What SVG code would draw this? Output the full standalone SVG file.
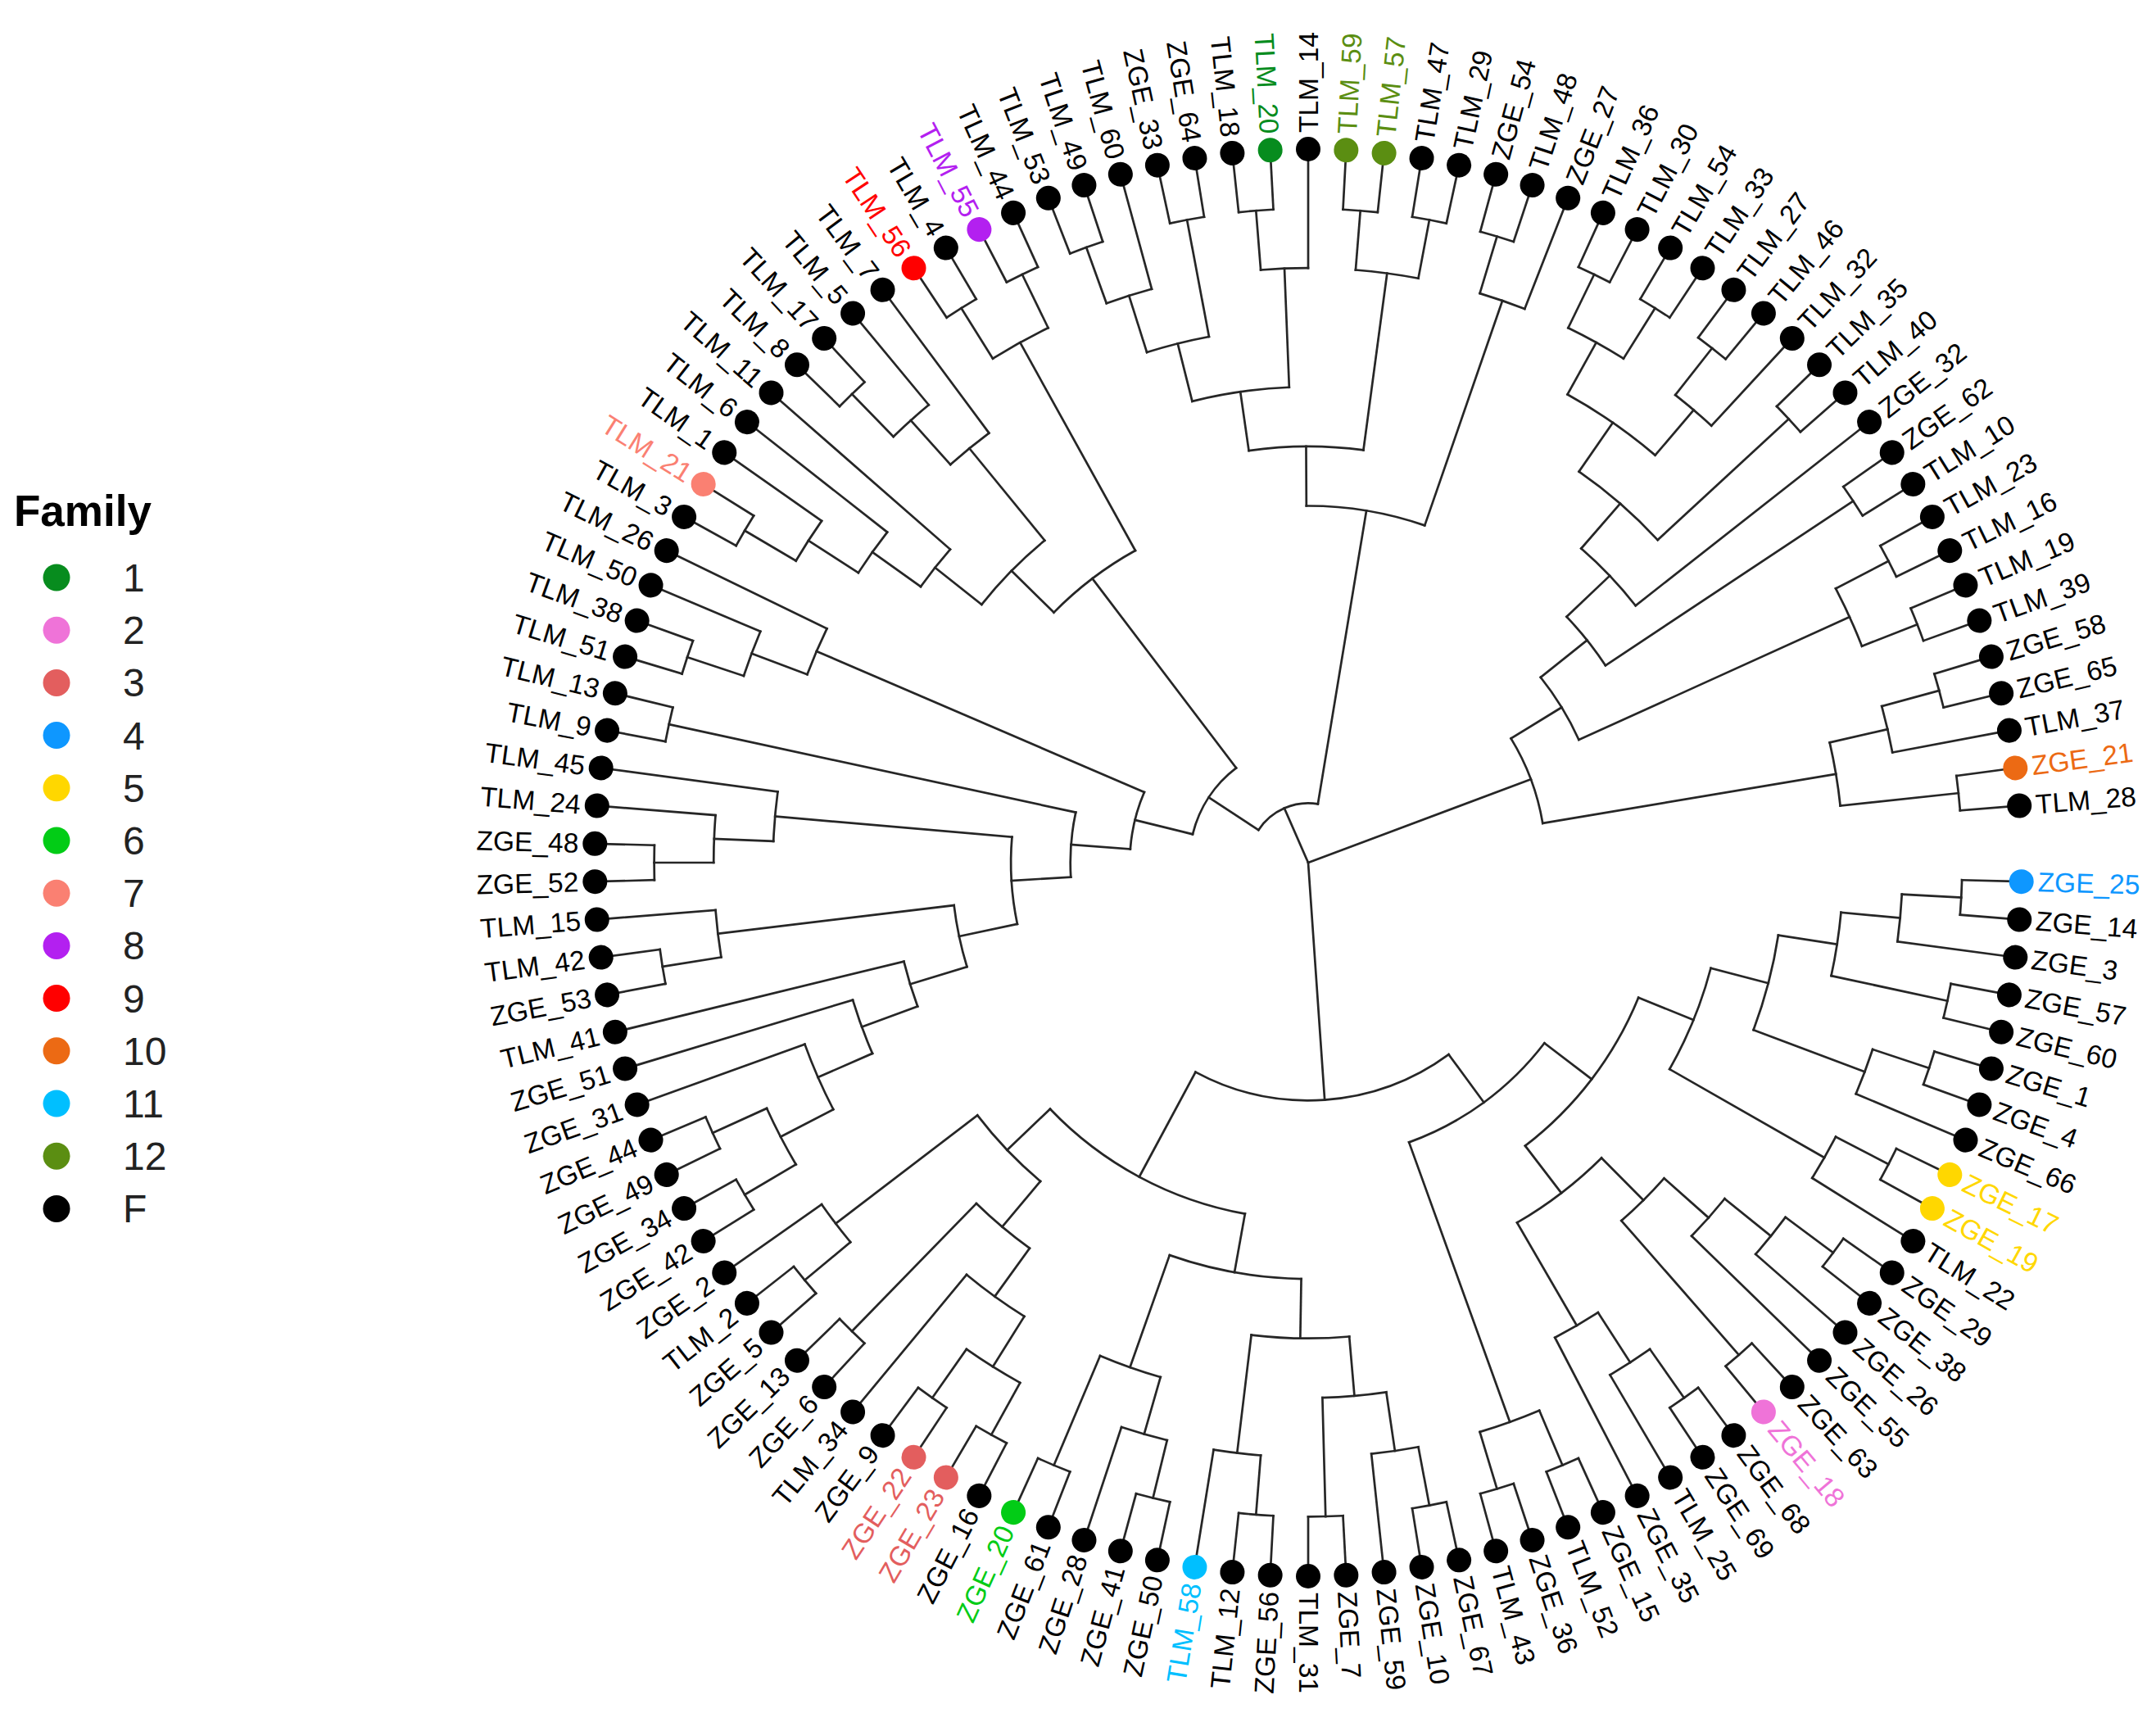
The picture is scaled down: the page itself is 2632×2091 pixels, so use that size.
<svg xmlns="http://www.w3.org/2000/svg" width="2632" height="2091" viewBox="0 0 2632 2091">
<style>
.br path,.br circle{fill:none;stroke:#262626;stroke-width:2.7;stroke-linecap:square}
.tips{font-family:'Liberation Sans',Arial,sans-serif;font-size:33.5px}
.tips text{dominant-baseline:central}
.tips .f text{text-anchor:end}
.lg{font-family:'Liberation Sans',Arial,sans-serif;font-size:48px;fill:#222}
</style>
<rect width="2632" height="2091" fill="#fff"/>
<g id="legend">
<text x="17" y="642" font-family="'Liberation Sans',Arial,sans-serif" font-size="53" font-weight="bold">Family</text>
<circle cx="69" cy="705" r="16.5" fill="#078C1E"/><text class="lg" x="150" y="722">1</text>
<circle cx="69" cy="769.2" r="16.5" fill="#EF73D8"/><text class="lg" x="150" y="786.2">2</text>
<circle cx="69" cy="833.4" r="16.5" fill="#E35E5E"/><text class="lg" x="150" y="850.4">3</text>
<circle cx="69" cy="897.6" r="16.5" fill="#0E97FF"/><text class="lg" x="150" y="914.6">4</text>
<circle cx="69" cy="961.8" r="16.5" fill="#FFD700"/><text class="lg" x="150" y="978.8">5</text>
<circle cx="69" cy="1026" r="16.5" fill="#02CC16"/><text class="lg" x="150" y="1043">6</text>
<circle cx="69" cy="1090.2" r="16.5" fill="#FA8072"/><text class="lg" x="150" y="1107.2">7</text>
<circle cx="69" cy="1154.4" r="16.5" fill="#B320F0"/><text class="lg" x="150" y="1171.4">8</text>
<circle cx="69" cy="1218.6" r="16.5" fill="#FF0000"/><text class="lg" x="150" y="1235.6">9</text>
<circle cx="69" cy="1282.8" r="16.5" fill="#EC6A14"/><text class="lg" x="150" y="1299.8">10</text>
<circle cx="69" cy="1347" r="16.5" fill="#00BFFF"/><text class="lg" x="150" y="1364">11</text>
<circle cx="69" cy="1411.2" r="16.5" fill="#5B8E12"/><text class="lg" x="150" y="1428.2">12</text>
<circle cx="69" cy="1475.4" r="16.5" fill="#000"/><text class="lg" x="150" y="1492.4">F</text>
</g>
<g id="branches" class="br" transform="translate(1597 1053)">
<path d="M0 0H72.6" transform="rotate(246.342)"/>
<path d="M0 0H290.3" transform="rotate(339.49)"/>
<path d="M0 0H290.3" transform="rotate(86.02)"/>
<circle r="798.4" pathLength="360" stroke-dasharray="3.051 720" transform="rotate(1.525)"/>
<path d="M798.4 0H871" transform="rotate(1.525)"/><path d="M798.4 0H871" transform="rotate(4.576)"/>
<circle r="725.8" pathLength="360" stroke-dasharray="4.576 720" transform="rotate(3.051)"/>
<path d="M725.8 0H798.4" transform="rotate(3.051)"/><path d="M725.8 0H871" transform="rotate(7.627)"/>
<circle r="798.4" pathLength="360" stroke-dasharray="3.051 720" transform="rotate(10.678)"/>
<path d="M798.4 0H871" transform="rotate(10.678)"/><path d="M798.4 0H871" transform="rotate(13.729)"/>
<circle r="653.3" pathLength="360" stroke-dasharray="6.864 720" transform="rotate(5.339)"/>
<path d="M653.3 0H725.8" transform="rotate(5.339)"/><path d="M653.3 0H798.4" transform="rotate(12.203)"/>
<circle r="798.4" pathLength="360" stroke-dasharray="3.051 720" transform="rotate(16.78)"/>
<path d="M798.4 0H871" transform="rotate(16.78)"/><path d="M798.4 0H871" transform="rotate(19.831)"/>
<circle r="725.8" pathLength="360" stroke-dasharray="4.576 720" transform="rotate(18.305)"/>
<path d="M725.8 0H798.4" transform="rotate(18.305)"/><path d="M725.8 0H871" transform="rotate(22.881)"/>
<circle r="580.7" pathLength="360" stroke-dasharray="11.822 720" transform="rotate(8.771)"/>
<path d="M580.7 0H653.3" transform="rotate(8.771)"/><path d="M580.7 0H725.8" transform="rotate(20.593)"/>
<circle r="798.4" pathLength="360" stroke-dasharray="3.051 720" transform="rotate(25.932)"/>
<path d="M798.4 0H871" transform="rotate(25.932)"/><path d="M798.4 0H871" transform="rotate(28.983)"/>
<circle r="725.8" pathLength="360" stroke-dasharray="4.576 720" transform="rotate(27.458)"/>
<path d="M725.8 0H798.4" transform="rotate(27.458)"/><path d="M725.8 0H871" transform="rotate(32.034)"/>
<circle r="508.1" pathLength="360" stroke-dasharray="15.064 720" transform="rotate(14.682)"/>
<path d="M508.1 0H580.7" transform="rotate(14.682)"/><path d="M508.1 0H725.8" transform="rotate(29.746)"/>
<circle r="798.4" pathLength="360" stroke-dasharray="3.051 720" transform="rotate(35.085)"/>
<path d="M798.4 0H871" transform="rotate(35.085)"/><path d="M798.4 0H871" transform="rotate(38.136)"/>
<circle r="725.8" pathLength="360" stroke-dasharray="4.576 720" transform="rotate(36.61)"/>
<path d="M725.8 0H798.4" transform="rotate(36.61)"/><path d="M725.8 0H871" transform="rotate(41.186)"/>
<circle r="653.3" pathLength="360" stroke-dasharray="5.339 720" transform="rotate(38.898)"/>
<path d="M653.3 0H725.8" transform="rotate(38.898)"/><path d="M653.3 0H871" transform="rotate(44.237)"/>
<circle r="798.4" pathLength="360" stroke-dasharray="3.051 720" transform="rotate(47.288)"/>
<path d="M798.4 0H871" transform="rotate(47.288)"/><path d="M798.4 0H871" transform="rotate(50.339)"/>
<circle r="580.7" pathLength="360" stroke-dasharray="7.246 720" transform="rotate(41.568)"/>
<path d="M580.7 0H653.3" transform="rotate(41.568)"/><path d="M580.7 0H798.4" transform="rotate(48.814)"/>
<circle r="798.4" pathLength="360" stroke-dasharray="3.051 720" transform="rotate(53.39)"/>
<path d="M798.4 0H871" transform="rotate(53.39)"/><path d="M798.4 0H871" transform="rotate(56.441)"/>
<circle r="725.8" pathLength="360" stroke-dasharray="4.577 720" transform="rotate(54.915)"/>
<path d="M725.8 0H798.4" transform="rotate(54.915)"/><path d="M725.8 0H871" transform="rotate(59.492)"/>
<circle r="653.3" pathLength="360" stroke-dasharray="5.339 720" transform="rotate(57.203)"/>
<path d="M653.3 0H725.8" transform="rotate(57.203)"/><path d="M653.3 0H871" transform="rotate(62.542)"/>
<circle r="508.1" pathLength="360" stroke-dasharray="14.682 720" transform="rotate(45.191)"/>
<path d="M508.1 0H580.7" transform="rotate(45.191)"/><path d="M508.1 0H653.3" transform="rotate(59.873)"/>
<circle r="435.5" pathLength="360" stroke-dasharray="30.318 720" transform="rotate(22.214)"/>
<path d="M435.5 0H508.1" transform="rotate(22.214)"/><path d="M435.5 0H508.1" transform="rotate(52.532)"/>
<circle r="798.4" pathLength="360" stroke-dasharray="3.051 720" transform="rotate(65.593)"/>
<path d="M798.4 0H871" transform="rotate(65.593)"/><path d="M798.4 0H871" transform="rotate(68.644)"/>
<circle r="798.4" pathLength="360" stroke-dasharray="3.051 720" transform="rotate(71.695)"/>
<path d="M798.4 0H871" transform="rotate(71.695)"/><path d="M798.4 0H871" transform="rotate(74.746)"/>
<circle r="725.8" pathLength="360" stroke-dasharray="6.101 720" transform="rotate(67.119)"/>
<path d="M725.8 0H798.4" transform="rotate(67.119)"/><path d="M725.8 0H798.4" transform="rotate(73.22)"/>
<circle r="362.9" pathLength="360" stroke-dasharray="32.797 720" transform="rotate(37.373)"/>
<path d="M362.9 0H435.5" transform="rotate(37.373)"/><path d="M362.9 0H725.8" transform="rotate(70.17)"/>
<circle r="798.4" pathLength="360" stroke-dasharray="3.05 720" transform="rotate(77.797)"/>
<path d="M798.4 0H871" transform="rotate(77.797)"/><path d="M798.4 0H871" transform="rotate(80.847)"/>
<circle r="725.8" pathLength="360" stroke-dasharray="4.576 720" transform="rotate(79.322)"/>
<path d="M725.8 0H798.4" transform="rotate(79.322)"/><path d="M725.8 0H871" transform="rotate(83.898)"/>
<circle r="798.4" pathLength="360" stroke-dasharray="3.051 720" transform="rotate(86.949)"/>
<path d="M798.4 0H871" transform="rotate(86.949)"/><path d="M798.4 0H871" transform="rotate(90)"/>
<circle r="653.3" pathLength="360" stroke-dasharray="6.865 720" transform="rotate(81.61)"/>
<path d="M653.3 0H725.8" transform="rotate(81.61)"/><path d="M653.3 0H798.4" transform="rotate(88.475)"/>
<circle r="798.4" pathLength="360" stroke-dasharray="3.051 720" transform="rotate(93.051)"/>
<path d="M798.4 0H871" transform="rotate(93.051)"/><path d="M798.4 0H871" transform="rotate(96.102)"/>
<circle r="725.8" pathLength="360" stroke-dasharray="4.577 720" transform="rotate(94.576)"/>
<path d="M725.8 0H798.4" transform="rotate(94.576)"/><path d="M725.8 0H871" transform="rotate(99.153)"/>
<circle r="580.7" pathLength="360" stroke-dasharray="11.822 720" transform="rotate(85.042)"/>
<path d="M580.7 0H653.3" transform="rotate(85.042)"/><path d="M580.7 0H725.8" transform="rotate(96.864)"/>
<circle r="798.4" pathLength="360" stroke-dasharray="3.051 720" transform="rotate(102.203)"/>
<path d="M798.4 0H871" transform="rotate(102.203)"/><path d="M798.4 0H871" transform="rotate(105.254)"/>
<circle r="725.8" pathLength="360" stroke-dasharray="4.576 720" transform="rotate(103.729)"/>
<path d="M725.8 0H798.4" transform="rotate(103.729)"/><path d="M725.8 0H871" transform="rotate(108.305)"/>
<circle r="798.4" pathLength="360" stroke-dasharray="3.051 720" transform="rotate(111.356)"/>
<path d="M798.4 0H871" transform="rotate(111.356)"/><path d="M798.4 0H871" transform="rotate(114.407)"/>
<circle r="653.3" pathLength="360" stroke-dasharray="6.864 720" transform="rotate(106.017)"/>
<path d="M653.3 0H725.8" transform="rotate(106.017)"/><path d="M653.3 0H798.4" transform="rotate(112.881)"/>
<circle r="508.1" pathLength="360" stroke-dasharray="18.496 720" transform="rotate(90.953)"/>
<path d="M508.1 0H580.7" transform="rotate(90.953)"/><path d="M508.1 0H653.3" transform="rotate(109.449)"/>
<circle r="798.4" pathLength="360" stroke-dasharray="3.05 720" transform="rotate(117.458)"/>
<path d="M798.4 0H871" transform="rotate(117.458)"/><path d="M798.4 0H871" transform="rotate(120.508)"/>
<circle r="798.4" pathLength="360" stroke-dasharray="3.051 720" transform="rotate(123.559)"/>
<path d="M798.4 0H871" transform="rotate(123.559)"/><path d="M798.4 0H871" transform="rotate(126.61)"/>
<circle r="725.8" pathLength="360" stroke-dasharray="6.102 720" transform="rotate(118.983)"/>
<path d="M725.8 0H798.4" transform="rotate(118.983)"/><path d="M725.8 0H798.4" transform="rotate(125.085)"/>
<circle r="653.3" pathLength="360" stroke-dasharray="7.627 720" transform="rotate(122.034)"/>
<path d="M653.3 0H725.8" transform="rotate(122.034)"/><path d="M653.3 0H871" transform="rotate(129.661)"/>
<circle r="798.4" pathLength="360" stroke-dasharray="3.051 720" transform="rotate(132.712)"/>
<path d="M798.4 0H871" transform="rotate(132.712)"/><path d="M798.4 0H871" transform="rotate(135.763)"/>
<circle r="580.7" pathLength="360" stroke-dasharray="8.39 720" transform="rotate(125.848)"/>
<path d="M580.7 0H653.3" transform="rotate(125.848)"/><path d="M580.7 0H798.4" transform="rotate(134.238)"/>
<circle r="798.4" pathLength="360" stroke-dasharray="3.05 720" transform="rotate(138.814)"/>
<path d="M798.4 0H871" transform="rotate(138.814)"/><path d="M798.4 0H871" transform="rotate(141.864)"/>
<circle r="725.8" pathLength="360" stroke-dasharray="4.576 720" transform="rotate(140.339)"/>
<path d="M725.8 0H798.4" transform="rotate(140.339)"/><path d="M725.8 0H871" transform="rotate(144.915)"/>
<circle r="508.1" pathLength="360" stroke-dasharray="12.584 720" transform="rotate(130.043)"/>
<path d="M508.1 0H580.7" transform="rotate(130.043)"/><path d="M508.1 0H725.8" transform="rotate(142.627)"/>
<circle r="435.5" pathLength="360" stroke-dasharray="36.134 720" transform="rotate(100.201)"/>
<path d="M435.5 0H508.1" transform="rotate(100.201)"/><path d="M435.5 0H508.1" transform="rotate(136.335)"/>
<circle r="290.3" pathLength="360" stroke-dasharray="64.497 720" transform="rotate(53.771)"/>
<path d="M290.3 0H362.9" transform="rotate(53.771)"/><path d="M290.3 0H435.5" transform="rotate(118.268)"/>
<circle r="798.4" pathLength="360" stroke-dasharray="3.051 720" transform="rotate(147.966)"/>
<path d="M798.4 0H871" transform="rotate(147.966)"/><path d="M798.4 0H871" transform="rotate(151.017)"/>
<circle r="798.4" pathLength="360" stroke-dasharray="3.051 720" transform="rotate(154.068)"/>
<path d="M798.4 0H871" transform="rotate(154.068)"/><path d="M798.4 0H871" transform="rotate(157.119)"/>
<circle r="725.8" pathLength="360" stroke-dasharray="6.102 720" transform="rotate(149.492)"/>
<path d="M725.8 0H798.4" transform="rotate(149.492)"/><path d="M725.8 0H798.4" transform="rotate(155.594)"/>
<circle r="653.3" pathLength="360" stroke-dasharray="7.626 720" transform="rotate(152.543)"/>
<path d="M653.3 0H725.8" transform="rotate(152.543)"/><path d="M653.3 0H871" transform="rotate(160.169)"/>
<circle r="580.7" pathLength="360" stroke-dasharray="6.864 720" transform="rotate(156.356)"/>
<path d="M580.7 0H653.3" transform="rotate(156.356)"/><path d="M580.7 0H871" transform="rotate(163.22)"/>
<circle r="508.1" pathLength="360" stroke-dasharray="6.483 720" transform="rotate(159.788)"/>
<path d="M508.1 0H580.7" transform="rotate(159.788)"/><path d="M508.1 0H871" transform="rotate(166.271)"/>
<circle r="798.4" pathLength="360" stroke-dasharray="3.051 720" transform="rotate(169.322)"/>
<path d="M798.4 0H871" transform="rotate(169.322)"/><path d="M798.4 0H871" transform="rotate(172.373)"/>
<circle r="725.8" pathLength="360" stroke-dasharray="4.576 720" transform="rotate(170.848)"/>
<path d="M725.8 0H798.4" transform="rotate(170.848)"/><path d="M725.8 0H871" transform="rotate(175.424)"/>
<circle r="435.5" pathLength="360" stroke-dasharray="10.106 720" transform="rotate(163.03)"/>
<path d="M435.5 0H508.1" transform="rotate(163.03)"/><path d="M435.5 0H725.8" transform="rotate(173.136)"/>
<circle r="798.4" pathLength="360" stroke-dasharray="3.05 720" transform="rotate(178.475)"/>
<path d="M798.4 0H871" transform="rotate(178.475)"/><path d="M798.4 0H871" transform="rotate(181.525)"/>
<circle r="725.8" pathLength="360" stroke-dasharray="4.576 720" transform="rotate(180)"/>
<path d="M725.8 0H798.4" transform="rotate(180)"/><path d="M725.8 0H871" transform="rotate(184.576)"/>
<circle r="653.3" pathLength="360" stroke-dasharray="5.339 720" transform="rotate(182.288)"/>
<path d="M653.3 0H725.8" transform="rotate(182.288)"/><path d="M653.3 0H871" transform="rotate(187.627)"/>
<circle r="362.9" pathLength="360" stroke-dasharray="16.875 720" transform="rotate(168.083)"/>
<path d="M362.9 0H435.5" transform="rotate(168.083)"/><path d="M362.9 0H653.3" transform="rotate(184.958)"/>
<circle r="798.4" pathLength="360" stroke-dasharray="3.051 720" transform="rotate(190.678)"/>
<path d="M798.4 0H871" transform="rotate(190.678)"/><path d="M798.4 0H871" transform="rotate(193.729)"/>
<circle r="290.3" pathLength="360" stroke-dasharray="15.683 720" transform="rotate(176.521)"/>
<path d="M290.3 0H362.9" transform="rotate(176.521)"/><path d="M290.3 0H798.4" transform="rotate(192.204)"/>
<circle r="798.4" pathLength="360" stroke-dasharray="3.051 720" transform="rotate(196.78)"/>
<path d="M798.4 0H871" transform="rotate(196.78)"/><path d="M798.4 0H871" transform="rotate(199.831)"/>
<circle r="725.8" pathLength="360" stroke-dasharray="4.576 720" transform="rotate(198.305)"/>
<path d="M725.8 0H798.4" transform="rotate(198.305)"/><path d="M725.8 0H871" transform="rotate(202.881)"/>
<circle r="653.3" pathLength="360" stroke-dasharray="5.339 720" transform="rotate(200.593)"/>
<path d="M653.3 0H725.8" transform="rotate(200.593)"/><path d="M653.3 0H871" transform="rotate(205.932)"/>
<circle r="217.8" pathLength="360" stroke-dasharray="18.9 720" transform="rotate(184.363)"/>
<path d="M217.8 0H290.3" transform="rotate(184.363)"/><path d="M217.8 0H653.3" transform="rotate(203.263)"/>
<circle r="798.4" pathLength="360" stroke-dasharray="3.051 720" transform="rotate(208.983)"/>
<path d="M798.4 0H871" transform="rotate(208.983)"/><path d="M798.4 0H871" transform="rotate(212.034)"/>
<circle r="725.8" pathLength="360" stroke-dasharray="4.577 720" transform="rotate(210.508)"/>
<path d="M725.8 0H798.4" transform="rotate(210.508)"/><path d="M725.8 0H871" transform="rotate(215.085)"/>
<circle r="653.3" pathLength="360" stroke-dasharray="5.339 720" transform="rotate(212.797)"/>
<path d="M653.3 0H725.8" transform="rotate(212.797)"/><path d="M653.3 0H871" transform="rotate(218.136)"/>
<circle r="580.7" pathLength="360" stroke-dasharray="5.72 720" transform="rotate(215.466)"/>
<path d="M580.7 0H653.3" transform="rotate(215.466)"/><path d="M580.7 0H871" transform="rotate(221.186)"/>
<circle r="798.4" pathLength="360" stroke-dasharray="3.051 720" transform="rotate(224.237)"/>
<path d="M798.4 0H871" transform="rotate(224.237)"/><path d="M798.4 0H871" transform="rotate(227.288)"/>
<circle r="725.8" pathLength="360" stroke-dasharray="4.576 720" transform="rotate(225.763)"/>
<path d="M725.8 0H798.4" transform="rotate(225.763)"/><path d="M725.8 0H871" transform="rotate(230.339)"/>
<circle r="653.3" pathLength="360" stroke-dasharray="5.339 720" transform="rotate(228.051)"/>
<path d="M653.3 0H725.8" transform="rotate(228.051)"/><path d="M653.3 0H871" transform="rotate(233.39)"/>
<circle r="508.1" pathLength="360" stroke-dasharray="12.394 720" transform="rotate(218.326)"/>
<path d="M508.1 0H580.7" transform="rotate(218.326)"/><path d="M508.1 0H653.3" transform="rotate(230.72)"/>
<circle r="798.4" pathLength="360" stroke-dasharray="3.051 720" transform="rotate(236.441)"/>
<path d="M798.4 0H871" transform="rotate(236.441)"/><path d="M798.4 0H871" transform="rotate(239.492)"/>
<circle r="798.4" pathLength="360" stroke-dasharray="3.051 720" transform="rotate(242.542)"/>
<path d="M798.4 0H871" transform="rotate(242.542)"/><path d="M798.4 0H871" transform="rotate(245.593)"/>
<circle r="725.8" pathLength="360" stroke-dasharray="6.102 720" transform="rotate(237.966)"/>
<path d="M725.8 0H798.4" transform="rotate(237.966)"/><path d="M725.8 0H798.4" transform="rotate(244.068)"/>
<circle r="435.5" pathLength="360" stroke-dasharray="16.494 720" transform="rotate(224.523)"/>
<path d="M435.5 0H508.1" transform="rotate(224.523)"/><path d="M435.5 0H725.8" transform="rotate(241.017)"/>
<circle r="145.2" pathLength="360" stroke-dasharray="38.957 720" transform="rotate(193.813)"/>
<path d="M145.2 0H217.8" transform="rotate(193.813)"/><path d="M145.2 0H435.5" transform="rotate(232.77)"/>
<circle r="798.4" pathLength="360" stroke-dasharray="3.051 720" transform="rotate(248.644)"/>
<path d="M798.4 0H871" transform="rotate(248.644)"/><path d="M798.4 0H871" transform="rotate(251.695)"/>
<circle r="725.8" pathLength="360" stroke-dasharray="4.577 720" transform="rotate(250.169)"/>
<path d="M725.8 0H798.4" transform="rotate(250.169)"/><path d="M725.8 0H871" transform="rotate(254.746)"/>
<circle r="798.4" pathLength="360" stroke-dasharray="3.05 720" transform="rotate(257.797)"/>
<path d="M798.4 0H871" transform="rotate(257.797)"/><path d="M798.4 0H871" transform="rotate(260.847)"/>
<circle r="653.3" pathLength="360" stroke-dasharray="6.864 720" transform="rotate(252.458)"/>
<path d="M653.3 0H725.8" transform="rotate(252.458)"/><path d="M653.3 0H798.4" transform="rotate(259.322)"/>
<circle r="798.4" pathLength="360" stroke-dasharray="3.051 720" transform="rotate(263.898)"/>
<path d="M798.4 0H871" transform="rotate(263.898)"/><path d="M798.4 0H871" transform="rotate(266.949)"/>
<circle r="725.8" pathLength="360" stroke-dasharray="4.576 720" transform="rotate(265.424)"/>
<path d="M725.8 0H798.4" transform="rotate(265.424)"/><path d="M725.8 0H871" transform="rotate(270)"/>
<circle r="580.7" pathLength="360" stroke-dasharray="11.822 720" transform="rotate(255.89)"/>
<path d="M580.7 0H653.3" transform="rotate(255.89)"/><path d="M580.7 0H725.8" transform="rotate(267.712)"/>
<circle r="798.4" pathLength="360" stroke-dasharray="3.051 720" transform="rotate(273.051)"/>
<path d="M798.4 0H871" transform="rotate(273.051)"/><path d="M798.4 0H871" transform="rotate(276.102)"/>
<circle r="798.4" pathLength="360" stroke-dasharray="3.05 720" transform="rotate(279.153)"/>
<path d="M798.4 0H871" transform="rotate(279.153)"/><path d="M798.4 0H871" transform="rotate(282.203)"/>
<circle r="725.8" pathLength="360" stroke-dasharray="6.101 720" transform="rotate(274.577)"/>
<path d="M725.8 0H798.4" transform="rotate(274.577)"/><path d="M725.8 0H798.4" transform="rotate(280.678)"/>
<circle r="508.1" pathLength="360" stroke-dasharray="15.827 720" transform="rotate(261.801)"/>
<path d="M508.1 0H580.7" transform="rotate(261.801)"/><path d="M508.1 0H725.8" transform="rotate(277.628)"/>
<circle r="798.4" pathLength="360" stroke-dasharray="3.051 720" transform="rotate(285.254)"/>
<path d="M798.4 0H871" transform="rotate(285.254)"/><path d="M798.4 0H871" transform="rotate(288.305)"/>
<circle r="725.8" pathLength="360" stroke-dasharray="4.576 720" transform="rotate(286.78)"/>
<path d="M725.8 0H798.4" transform="rotate(286.78)"/><path d="M725.8 0H871" transform="rotate(291.356)"/>
<circle r="435.5" pathLength="360" stroke-dasharray="19.353 720" transform="rotate(269.715)"/>
<path d="M435.5 0H508.1" transform="rotate(269.715)"/><path d="M435.5 0H725.8" transform="rotate(289.068)"/>
<circle r="72.6" pathLength="360" stroke-dasharray="66.1 720" transform="rotate(213.292)"/>
<path d="M72.6 0H145.2" transform="rotate(213.292)"/><path d="M72.6 0H435.5" transform="rotate(279.392)"/>
<circle r="798.4" pathLength="360" stroke-dasharray="3.051 720" transform="rotate(294.407)"/>
<path d="M798.4 0H871" transform="rotate(294.407)"/><path d="M798.4 0H871" transform="rotate(297.458)"/>
<circle r="798.4" pathLength="360" stroke-dasharray="3.051 720" transform="rotate(300.508)"/>
<path d="M798.4 0H871" transform="rotate(300.508)"/><path d="M798.4 0H871" transform="rotate(303.559)"/>
<circle r="725.8" pathLength="360" stroke-dasharray="6.101 720" transform="rotate(295.933)"/>
<path d="M725.8 0H798.4" transform="rotate(295.933)"/><path d="M725.8 0H798.4" transform="rotate(302.034)"/>
<circle r="798.4" pathLength="360" stroke-dasharray="3.051 720" transform="rotate(306.61)"/>
<path d="M798.4 0H871" transform="rotate(306.61)"/><path d="M798.4 0H871" transform="rotate(309.661)"/>
<circle r="725.8" pathLength="360" stroke-dasharray="4.576 720" transform="rotate(308.136)"/>
<path d="M725.8 0H798.4" transform="rotate(308.136)"/><path d="M725.8 0H871" transform="rotate(312.712)"/>
<circle r="653.3" pathLength="360" stroke-dasharray="11.441 720" transform="rotate(298.983)"/>
<path d="M653.3 0H725.8" transform="rotate(298.983)"/><path d="M653.3 0H725.8" transform="rotate(310.424)"/>
<circle r="798.4" pathLength="360" stroke-dasharray="3.051 720" transform="rotate(315.763)"/>
<path d="M798.4 0H871" transform="rotate(315.763)"/><path d="M798.4 0H871" transform="rotate(318.814)"/>
<circle r="580.7" pathLength="360" stroke-dasharray="12.585 720" transform="rotate(304.703)"/>
<path d="M580.7 0H653.3" transform="rotate(304.703)"/><path d="M580.7 0H798.4" transform="rotate(317.288)"/>
<circle r="508.1" pathLength="360" stroke-dasharray="10.868 720" transform="rotate(310.996)"/>
<path d="M508.1 0H580.7" transform="rotate(310.996)"/><path d="M508.1 0H871" transform="rotate(321.864)"/>
<circle r="798.4" pathLength="360" stroke-dasharray="3.051 720" transform="rotate(324.915)"/>
<path d="M798.4 0H871" transform="rotate(324.915)"/><path d="M798.4 0H871" transform="rotate(327.966)"/>
<circle r="435.5" pathLength="360" stroke-dasharray="10.011 720" transform="rotate(316.43)"/>
<path d="M435.5 0H508.1" transform="rotate(316.43)"/><path d="M435.5 0H798.4" transform="rotate(326.441)"/>
<circle r="798.4" pathLength="360" stroke-dasharray="3.051 720" transform="rotate(331.017)"/>
<path d="M798.4 0H871" transform="rotate(331.017)"/><path d="M798.4 0H871" transform="rotate(334.068)"/>
<circle r="798.4" pathLength="360" stroke-dasharray="3.05 720" transform="rotate(337.119)"/>
<path d="M798.4 0H871" transform="rotate(337.119)"/><path d="M798.4 0H871" transform="rotate(340.169)"/>
<circle r="725.8" pathLength="360" stroke-dasharray="6.102 720" transform="rotate(332.542)"/>
<path d="M725.8 0H798.4" transform="rotate(332.542)"/><path d="M725.8 0H798.4" transform="rotate(338.644)"/>
<circle r="362.9" pathLength="360" stroke-dasharray="14.158 720" transform="rotate(321.435)"/>
<path d="M362.9 0H435.5" transform="rotate(321.435)"/><path d="M362.9 0H725.8" transform="rotate(335.593)"/>
<circle r="798.4" pathLength="360" stroke-dasharray="3.051 720" transform="rotate(343.22)"/>
<path d="M798.4 0H871" transform="rotate(343.22)"/><path d="M798.4 0H871" transform="rotate(346.271)"/>
<circle r="725.8" pathLength="360" stroke-dasharray="4.576 720" transform="rotate(344.746)"/>
<path d="M725.8 0H798.4" transform="rotate(344.746)"/><path d="M725.8 0H871" transform="rotate(349.322)"/>
<circle r="798.4" pathLength="360" stroke-dasharray="3.051 720" transform="rotate(352.373)"/>
<path d="M798.4 0H871" transform="rotate(352.373)"/><path d="M798.4 0H871" transform="rotate(355.424)"/>
<circle r="653.3" pathLength="360" stroke-dasharray="6.864 720" transform="rotate(347.034)"/>
<path d="M653.3 0H725.8" transform="rotate(347.034)"/><path d="M653.3 0H798.4" transform="rotate(353.898)"/>
<circle r="290.3" pathLength="360" stroke-dasharray="21.952 720" transform="rotate(328.514)"/>
<path d="M290.3 0H362.9" transform="rotate(328.514)"/><path d="M290.3 0H653.3" transform="rotate(350.466)"/>
</g>
<g id="tips" class="tips" transform="translate(1597 1053)">
<g id="t-ZGE_25" transform="rotate(1.525)" fill="#0E97FF"><circle cx="871" r="15"/><text x="891">ZGE_25</text></g>
<g id="t-ZGE_14" transform="rotate(4.576)"><circle cx="871" r="15"/><text x="891">ZGE_14</text></g>
<g id="t-ZGE_3" transform="rotate(7.627)"><circle cx="871" r="15"/><text x="891">ZGE_3</text></g>
<g id="t-ZGE_57" transform="rotate(10.678)"><circle cx="871" r="15"/><text x="891">ZGE_57</text></g>
<g id="t-ZGE_60" transform="rotate(13.729)"><circle cx="871" r="15"/><text x="891">ZGE_60</text></g>
<g id="t-ZGE_1" transform="rotate(16.78)"><circle cx="871" r="15"/><text x="891">ZGE_1</text></g>
<g id="t-ZGE_4" transform="rotate(19.831)"><circle cx="871" r="15"/><text x="891">ZGE_4</text></g>
<g id="t-ZGE_66" transform="rotate(22.881)"><circle cx="871" r="15"/><text x="891">ZGE_66</text></g>
<g id="t-ZGE_17" transform="rotate(25.932)" fill="#FFD700"><circle cx="871" r="15"/><text x="891">ZGE_17</text></g>
<g id="t-ZGE_19" transform="rotate(28.983)" fill="#FFD700"><circle cx="871" r="15"/><text x="891">ZGE_19</text></g>
<g id="t-TLM_22" transform="rotate(32.034)"><circle cx="871" r="15"/><text x="891">TLM_22</text></g>
<g id="t-ZGE_29" transform="rotate(35.085)"><circle cx="871" r="15"/><text x="891">ZGE_29</text></g>
<g id="t-ZGE_38" transform="rotate(38.136)"><circle cx="871" r="15"/><text x="891">ZGE_38</text></g>
<g id="t-ZGE_26" transform="rotate(41.186)"><circle cx="871" r="15"/><text x="891">ZGE_26</text></g>
<g id="t-ZGE_55" transform="rotate(44.237)"><circle cx="871" r="15"/><text x="891">ZGE_55</text></g>
<g id="t-ZGE_63" transform="rotate(47.288)"><circle cx="871" r="15"/><text x="891">ZGE_63</text></g>
<g id="t-ZGE_18" transform="rotate(50.339)" fill="#EF73D8"><circle cx="871" r="15"/><text x="891">ZGE_18</text></g>
<g id="t-ZGE_68" transform="rotate(53.39)"><circle cx="871" r="15"/><text x="891">ZGE_68</text></g>
<g id="t-ZGE_69" transform="rotate(56.441)"><circle cx="871" r="15"/><text x="891">ZGE_69</text></g>
<g id="t-TLM_25" transform="rotate(59.492)"><circle cx="871" r="15"/><text x="891">TLM_25</text></g>
<g id="t-ZGE_35" transform="rotate(62.542)"><circle cx="871" r="15"/><text x="891">ZGE_35</text></g>
<g id="t-ZGE_15" transform="rotate(65.593)"><circle cx="871" r="15"/><text x="891">ZGE_15</text></g>
<g id="t-TLM_52" transform="rotate(68.644)"><circle cx="871" r="15"/><text x="891">TLM_52</text></g>
<g id="t-ZGE_36" transform="rotate(71.695)"><circle cx="871" r="15"/><text x="891">ZGE_36</text></g>
<g id="t-TLM_43" transform="rotate(74.746)"><circle cx="871" r="15"/><text x="891">TLM_43</text></g>
<g id="t-ZGE_67" transform="rotate(77.797)"><circle cx="871" r="15"/><text x="891">ZGE_67</text></g>
<g id="t-ZGE_10" transform="rotate(80.847)"><circle cx="871" r="15"/><text x="891">ZGE_10</text></g>
<g id="t-ZGE_59" transform="rotate(83.898)"><circle cx="871" r="15"/><text x="891">ZGE_59</text></g>
<g id="t-ZGE_7" transform="rotate(86.949)"><circle cx="871" r="15"/><text x="891">ZGE_7</text></g>
<g id="t-TLM_31" transform="rotate(90)"><circle cx="871" r="15"/><text x="891">TLM_31</text></g>
<g id="t-ZGE_56" class="f" transform="rotate(93.051)"><circle cx="871" r="15"/><text x="-891" transform="rotate(180)">ZGE_56</text></g>
<g id="t-TLM_12" class="f" transform="rotate(96.102)"><circle cx="871" r="15"/><text x="-891" transform="rotate(180)">TLM_12</text></g>
<g id="t-TLM_58" class="f" transform="rotate(99.153)" fill="#00BFFF"><circle cx="871" r="15"/><text x="-891" transform="rotate(180)">TLM_58</text></g>
<g id="t-ZGE_50" class="f" transform="rotate(102.203)"><circle cx="871" r="15"/><text x="-891" transform="rotate(180)">ZGE_50</text></g>
<g id="t-ZGE_41" class="f" transform="rotate(105.254)"><circle cx="871" r="15"/><text x="-891" transform="rotate(180)">ZGE_41</text></g>
<g id="t-ZGE_28" class="f" transform="rotate(108.305)"><circle cx="871" r="15"/><text x="-891" transform="rotate(180)">ZGE_28</text></g>
<g id="t-ZGE_61" class="f" transform="rotate(111.356)"><circle cx="871" r="15"/><text x="-891" transform="rotate(180)">ZGE_61</text></g>
<g id="t-ZGE_20" class="f" transform="rotate(114.407)" fill="#02CC16"><circle cx="871" r="15"/><text x="-891" transform="rotate(180)">ZGE_20</text></g>
<g id="t-ZGE_16" class="f" transform="rotate(117.458)"><circle cx="871" r="15"/><text x="-891" transform="rotate(180)">ZGE_16</text></g>
<g id="t-ZGE_23" class="f" transform="rotate(120.508)" fill="#E35E5E"><circle cx="871" r="15"/><text x="-891" transform="rotate(180)">ZGE_23</text></g>
<g id="t-ZGE_22" class="f" transform="rotate(123.559)" fill="#E35E5E"><circle cx="871" r="15"/><text x="-891" transform="rotate(180)">ZGE_22</text></g>
<g id="t-ZGE_9" class="f" transform="rotate(126.61)"><circle cx="871" r="15"/><text x="-891" transform="rotate(180)">ZGE_9</text></g>
<g id="t-TLM_34" class="f" transform="rotate(129.661)"><circle cx="871" r="15"/><text x="-891" transform="rotate(180)">TLM_34</text></g>
<g id="t-ZGE_6" class="f" transform="rotate(132.712)"><circle cx="871" r="15"/><text x="-891" transform="rotate(180)">ZGE_6</text></g>
<g id="t-ZGE_13" class="f" transform="rotate(135.763)"><circle cx="871" r="15"/><text x="-891" transform="rotate(180)">ZGE_13</text></g>
<g id="t-ZGE_5" class="f" transform="rotate(138.814)"><circle cx="871" r="15"/><text x="-891" transform="rotate(180)">ZGE_5</text></g>
<g id="t-TLM_2" class="f" transform="rotate(141.864)"><circle cx="871" r="15"/><text x="-891" transform="rotate(180)">TLM_2</text></g>
<g id="t-ZGE_2" class="f" transform="rotate(144.915)"><circle cx="871" r="15"/><text x="-891" transform="rotate(180)">ZGE_2</text></g>
<g id="t-ZGE_42" class="f" transform="rotate(147.966)"><circle cx="871" r="15"/><text x="-891" transform="rotate(180)">ZGE_42</text></g>
<g id="t-ZGE_34" class="f" transform="rotate(151.017)"><circle cx="871" r="15"/><text x="-891" transform="rotate(180)">ZGE_34</text></g>
<g id="t-ZGE_49" class="f" transform="rotate(154.068)"><circle cx="871" r="15"/><text x="-891" transform="rotate(180)">ZGE_49</text></g>
<g id="t-ZGE_44" class="f" transform="rotate(157.119)"><circle cx="871" r="15"/><text x="-891" transform="rotate(180)">ZGE_44</text></g>
<g id="t-ZGE_31" class="f" transform="rotate(160.169)"><circle cx="871" r="15"/><text x="-891" transform="rotate(180)">ZGE_31</text></g>
<g id="t-ZGE_51" class="f" transform="rotate(163.22)"><circle cx="871" r="15"/><text x="-891" transform="rotate(180)">ZGE_51</text></g>
<g id="t-TLM_41" class="f" transform="rotate(166.271)"><circle cx="871" r="15"/><text x="-891" transform="rotate(180)">TLM_41</text></g>
<g id="t-ZGE_53" class="f" transform="rotate(169.322)"><circle cx="871" r="15"/><text x="-891" transform="rotate(180)">ZGE_53</text></g>
<g id="t-TLM_42" class="f" transform="rotate(172.373)"><circle cx="871" r="15"/><text x="-891" transform="rotate(180)">TLM_42</text></g>
<g id="t-TLM_15" class="f" transform="rotate(175.424)"><circle cx="871" r="15"/><text x="-891" transform="rotate(180)">TLM_15</text></g>
<g id="t-ZGE_52" class="f" transform="rotate(178.475)"><circle cx="871" r="15"/><text x="-891" transform="rotate(180)">ZGE_52</text></g>
<g id="t-ZGE_48" class="f" transform="rotate(181.525)"><circle cx="871" r="15"/><text x="-891" transform="rotate(180)">ZGE_48</text></g>
<g id="t-TLM_24" class="f" transform="rotate(184.576)"><circle cx="871" r="15"/><text x="-891" transform="rotate(180)">TLM_24</text></g>
<g id="t-TLM_45" class="f" transform="rotate(187.627)"><circle cx="871" r="15"/><text x="-891" transform="rotate(180)">TLM_45</text></g>
<g id="t-TLM_9" class="f" transform="rotate(190.678)"><circle cx="871" r="15"/><text x="-891" transform="rotate(180)">TLM_9</text></g>
<g id="t-TLM_13" class="f" transform="rotate(193.729)"><circle cx="871" r="15"/><text x="-891" transform="rotate(180)">TLM_13</text></g>
<g id="t-TLM_51" class="f" transform="rotate(196.78)"><circle cx="871" r="15"/><text x="-891" transform="rotate(180)">TLM_51</text></g>
<g id="t-TLM_38" class="f" transform="rotate(199.831)"><circle cx="871" r="15"/><text x="-891" transform="rotate(180)">TLM_38</text></g>
<g id="t-TLM_50" class="f" transform="rotate(202.881)"><circle cx="871" r="15"/><text x="-891" transform="rotate(180)">TLM_50</text></g>
<g id="t-TLM_26" class="f" transform="rotate(205.932)"><circle cx="871" r="15"/><text x="-891" transform="rotate(180)">TLM_26</text></g>
<g id="t-TLM_3" class="f" transform="rotate(208.983)"><circle cx="871" r="15"/><text x="-891" transform="rotate(180)">TLM_3</text></g>
<g id="t-TLM_21" class="f" transform="rotate(212.034)" fill="#FA8072"><circle cx="871" r="15"/><text x="-891" transform="rotate(180)">TLM_21</text></g>
<g id="t-TLM_1" class="f" transform="rotate(215.085)"><circle cx="871" r="15"/><text x="-891" transform="rotate(180)">TLM_1</text></g>
<g id="t-TLM_6" class="f" transform="rotate(218.136)"><circle cx="871" r="15"/><text x="-891" transform="rotate(180)">TLM_6</text></g>
<g id="t-TLM_11" class="f" transform="rotate(221.186)"><circle cx="871" r="15"/><text x="-891" transform="rotate(180)">TLM_11</text></g>
<g id="t-TLM_8" class="f" transform="rotate(224.237)"><circle cx="871" r="15"/><text x="-891" transform="rotate(180)">TLM_8</text></g>
<g id="t-TLM_17" class="f" transform="rotate(227.288)"><circle cx="871" r="15"/><text x="-891" transform="rotate(180)">TLM_17</text></g>
<g id="t-TLM_5" class="f" transform="rotate(230.339)"><circle cx="871" r="15"/><text x="-891" transform="rotate(180)">TLM_5</text></g>
<g id="t-TLM_7" class="f" transform="rotate(233.39)"><circle cx="871" r="15"/><text x="-891" transform="rotate(180)">TLM_7</text></g>
<g id="t-TLM_56" class="f" transform="rotate(236.441)" fill="#FF0000"><circle cx="871" r="15"/><text x="-891" transform="rotate(180)">TLM_56</text></g>
<g id="t-TLM_4" class="f" transform="rotate(239.492)"><circle cx="871" r="15"/><text x="-891" transform="rotate(180)">TLM_4</text></g>
<g id="t-TLM_55" class="f" transform="rotate(242.542)" fill="#B320F0"><circle cx="871" r="15"/><text x="-891" transform="rotate(180)">TLM_55</text></g>
<g id="t-TLM_44" class="f" transform="rotate(245.593)"><circle cx="871" r="15"/><text x="-891" transform="rotate(180)">TLM_44</text></g>
<g id="t-TLM_53" class="f" transform="rotate(248.644)"><circle cx="871" r="15"/><text x="-891" transform="rotate(180)">TLM_53</text></g>
<g id="t-TLM_49" class="f" transform="rotate(251.695)"><circle cx="871" r="15"/><text x="-891" transform="rotate(180)">TLM_49</text></g>
<g id="t-TLM_60" class="f" transform="rotate(254.746)"><circle cx="871" r="15"/><text x="-891" transform="rotate(180)">TLM_60</text></g>
<g id="t-ZGE_33" class="f" transform="rotate(257.797)"><circle cx="871" r="15"/><text x="-891" transform="rotate(180)">ZGE_33</text></g>
<g id="t-ZGE_64" class="f" transform="rotate(260.847)"><circle cx="871" r="15"/><text x="-891" transform="rotate(180)">ZGE_64</text></g>
<g id="t-TLM_18" class="f" transform="rotate(263.898)"><circle cx="871" r="15"/><text x="-891" transform="rotate(180)">TLM_18</text></g>
<g id="t-TLM_20" class="f" transform="rotate(266.949)" fill="#078C1E"><circle cx="871" r="15"/><text x="-891" transform="rotate(180)">TLM_20</text></g>
<g id="t-TLM_14" transform="rotate(270)"><circle cx="871" r="15"/><text x="891">TLM_14</text></g>
<g id="t-TLM_59" transform="rotate(273.051)" fill="#5B8E12"><circle cx="871" r="15"/><text x="891">TLM_59</text></g>
<g id="t-TLM_57" transform="rotate(276.102)" fill="#5B8E12"><circle cx="871" r="15"/><text x="891">TLM_57</text></g>
<g id="t-TLM_47" transform="rotate(279.153)"><circle cx="871" r="15"/><text x="891">TLM_47</text></g>
<g id="t-TLM_29" transform="rotate(282.203)"><circle cx="871" r="15"/><text x="891">TLM_29</text></g>
<g id="t-ZGE_54" transform="rotate(285.254)"><circle cx="871" r="15"/><text x="891">ZGE_54</text></g>
<g id="t-TLM_48" transform="rotate(288.305)"><circle cx="871" r="15"/><text x="891">TLM_48</text></g>
<g id="t-ZGE_27" transform="rotate(291.356)"><circle cx="871" r="15"/><text x="891">ZGE_27</text></g>
<g id="t-TLM_36" transform="rotate(294.407)"><circle cx="871" r="15"/><text x="891">TLM_36</text></g>
<g id="t-TLM_30" transform="rotate(297.458)"><circle cx="871" r="15"/><text x="891">TLM_30</text></g>
<g id="t-TLM_54" transform="rotate(300.508)"><circle cx="871" r="15"/><text x="891">TLM_54</text></g>
<g id="t-TLM_33" transform="rotate(303.559)"><circle cx="871" r="15"/><text x="891">TLM_33</text></g>
<g id="t-TLM_27" transform="rotate(306.61)"><circle cx="871" r="15"/><text x="891">TLM_27</text></g>
<g id="t-TLM_46" transform="rotate(309.661)"><circle cx="871" r="15"/><text x="891">TLM_46</text></g>
<g id="t-TLM_32" transform="rotate(312.712)"><circle cx="871" r="15"/><text x="891">TLM_32</text></g>
<g id="t-TLM_35" transform="rotate(315.763)"><circle cx="871" r="15"/><text x="891">TLM_35</text></g>
<g id="t-TLM_40" transform="rotate(318.814)"><circle cx="871" r="15"/><text x="891">TLM_40</text></g>
<g id="t-ZGE_32" transform="rotate(321.864)"><circle cx="871" r="15"/><text x="891">ZGE_32</text></g>
<g id="t-ZGE_62" transform="rotate(324.915)"><circle cx="871" r="15"/><text x="891">ZGE_62</text></g>
<g id="t-TLM_10" transform="rotate(327.966)"><circle cx="871" r="15"/><text x="891">TLM_10</text></g>
<g id="t-TLM_23" transform="rotate(331.017)"><circle cx="871" r="15"/><text x="891">TLM_23</text></g>
<g id="t-TLM_16" transform="rotate(334.068)"><circle cx="871" r="15"/><text x="891">TLM_16</text></g>
<g id="t-TLM_19" transform="rotate(337.119)"><circle cx="871" r="15"/><text x="891">TLM_19</text></g>
<g id="t-TLM_39" transform="rotate(340.169)"><circle cx="871" r="15"/><text x="891">TLM_39</text></g>
<g id="t-ZGE_58" transform="rotate(343.22)"><circle cx="871" r="15"/><text x="891">ZGE_58</text></g>
<g id="t-ZGE_65" transform="rotate(346.271)"><circle cx="871" r="15"/><text x="891">ZGE_65</text></g>
<g id="t-TLM_37" transform="rotate(349.322)"><circle cx="871" r="15"/><text x="891">TLM_37</text></g>
<g id="t-ZGE_21" transform="rotate(352.373)" fill="#EC6A14"><circle cx="871" r="15"/><text x="891">ZGE_21</text></g>
<g id="t-TLM_28" transform="rotate(355.424)"><circle cx="871" r="15"/><text x="891">TLM_28</text></g>
</g>
</svg>
